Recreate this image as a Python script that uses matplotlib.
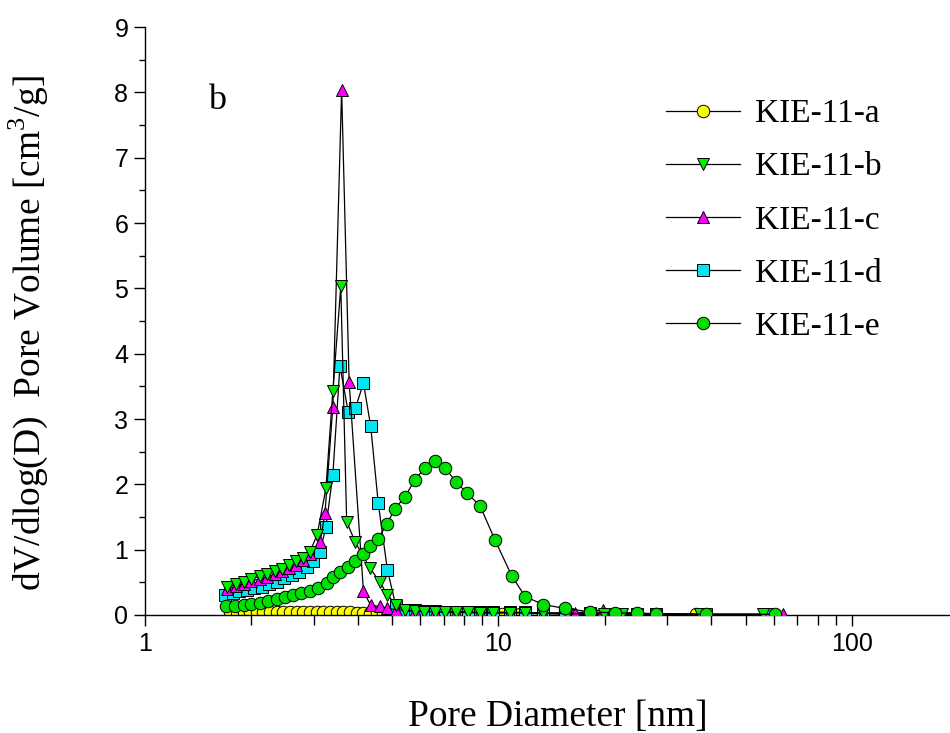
import matplotlib
matplotlib.use("Agg")
import matplotlib.pyplot as plt
from matplotlib.ticker import FixedLocator, LogLocator, NullFormatter, MultipleLocator

plt.rcParams['mathtext.fontset'] = 'custom'
plt.rcParams['mathtext.rm'] = 'Liberation Serif'

# ---------------- pore size distribution data ----------------
labels = ["KIE-11-a", "KIE-11-b", "KIE-11-c", "KIE-11-d", "KIE-11-e"]

d_a = [1.74, 1.82, 1.90, 1.98, 2.07, 2.16, 2.26, 2.36, 2.46, 2.57, 2.69, 2.80,
       2.93, 3.06, 3.19, 3.34, 3.49, 3.64, 3.80, 3.97, 4.15, 4.33, 4.52, 4.72,
       5.13, 5.80, 6.61, 7.58, 8.87, 10.2, 11.5, 13.4, 15.4, 18.1, 21.3, 24.6,
       27.9, 36.3]
v_a = [0.05, 0.05, 0.05, 0.05, 0.05, 0.05, 0.05, 0.05, 0.05, 0.05, 0.05, 0.04,
       0.04, 0.04, 0.04, 0.04, 0.04, 0.04, 0.04, 0.03, 0.03, 0.03, 0.03, 0.03,
       0.03, 0.02, 0.02, 0.02, 0.02, 0.02, 0.02, 0.02, 0.01, 0.01, 0.01, 0.01,
       0.01, 0.01]

d_b = [1.71, 1.81, 1.90, 2.00, 2.11, 2.21, 2.33, 2.44, 2.56, 2.67, 2.80, 2.93,
       3.07, 3.25, 3.40, 3.58, 3.72, 3.93, 4.33, 4.62, 4.85, 5.13,
       5.44, 5.80, 6.16, 6.61, 7.06, 7.58, 8.20, 8.87, 9.67, 10.8, 11.9, 13.4,
       15.6, 18.1, 19.9, 22.3, 27.9, 37.1, 55.9]
v_b = [0.43, 0.47, 0.51, 0.55, 0.59, 0.62, 0.68, 0.71, 0.77, 0.82, 0.88, 0.97,
       1.23, 1.94, 3.43, 5.03, 1.43, 1.12, 0.72, 0.50, 0.31, 0.15,
       0.07, 0.06, 0.05, 0.05, 0.04, 0.04, 0.04, 0.03, 0.03, 0.03, 0.03, 0.03,
       0.02, 0.02, 0.02, 0.02, 0.01, 0.01, 0.01]

d_c = [1.71, 1.81, 1.90, 2.00, 2.11, 2.21, 2.33, 2.44, 2.56, 2.67, 2.80, 2.93,
       3.13, 3.23, 3.40, 3.60, 3.78, 4.15, 4.35, 4.62, 4.85,
       5.13, 5.80, 6.61, 7.58, 8.87, 10.8, 13.4, 16.5, 19.7, 24.6, 38.6, 63.8]
v_c = [0.40, 0.44, 0.48, 0.52, 0.55, 0.58, 0.63, 0.67, 0.72, 0.76, 0.84, 0.93,
       1.12, 1.56, 3.19, 8.04, 3.57, 0.36, 0.15, 0.13, 0.10,
       0.08, 0.06, 0.05, 0.05, 0.04, 0.04, 0.03, 0.03, 0.08, 0.02, 0.01, 0.01]

d_d = [1.68, 1.77, 1.85, 1.94, 2.04, 2.14, 2.25, 2.36, 2.47, 2.60, 2.73, 2.87,
       2.99, 3.13, 3.25, 3.40, 3.56, 3.76, 3.94, 4.15, 4.35, 4.57, 4.85, 5.13,
       5.44, 5.80, 6.16, 6.61, 7.06, 7.58, 8.20, 8.87, 9.67, 10.8, 11.9, 13.4,
       15.4, 18.1, 21.3, 24.6, 27.9, 38.6, 57.5]
v_d = [0.31, 0.33, 0.36, 0.38, 0.41, 0.43, 0.47, 0.51, 0.56, 0.61, 0.66, 0.74,
       0.82, 0.97, 1.35, 2.15, 3.81, 3.10, 3.17, 3.55, 2.89, 1.71, 0.69, 0.13,
       0.08, 0.07, 0.06, 0.06, 0.05, 0.05, 0.05, 0.04, 0.04, 0.04, 0.04, 0.03,
       0.03, 0.03, 0.02, 0.02, 0.02, 0.01, 0.01]

d_e = [1.69, 1.80, 1.90, 2.00, 2.11, 2.23, 2.36, 2.49, 2.63, 2.77, 2.93, 3.09,
       3.27, 3.41, 3.56, 3.76, 3.93, 4.15, 4.33, 4.57, 4.83, 5.10, 5.44, 5.80,
       6.19, 6.61, 7.06, 7.58, 8.13, 8.87, 9.77, 10.9, 11.9, 13.4, 15.4, 18.1,
       21.3, 24.6, 27.9, 38.6, 60.6]
v_e = [0.13, 0.14, 0.15, 0.17, 0.19, 0.22, 0.24, 0.27, 0.30, 0.33, 0.37, 0.42,
       0.49, 0.58, 0.66, 0.74, 0.82, 0.94, 1.06, 1.17, 1.39, 1.63, 1.81, 2.07,
       2.25, 2.36, 2.25, 2.04, 1.87, 1.67, 1.15, 0.60, 0.28, 0.16, 0.10, 0.05,
       0.03, 0.03, 0.02, 0.01, 0.01]

# ---------------- styles ----------------
styles = [
    dict(marker='o', color='#ffff00', zorder=2),
    dict(marker='v', color='#00ee00', zorder=5),
    dict(marker='^', color='#ff00ff', zorder=4),
    dict(marker='s', color='#00e5f0', zorder=3),
    dict(marker='o', color='#00e000', zorder=6),
]
series = [(d_a, v_a), (d_b, v_b), (d_c, v_c), (d_d, v_d), (d_e, v_e)]

fig = plt.figure(figsize=(9.5, 7.33), dpi=100)
ax = fig.add_axes([0.1526, 0.161, 0.848, 0.802])

for (d, v), lab, st in zip(series, labels, styles):
    ax.plot(d, v, color='black', lw=0.9, marker=st['marker'], ms=9,
            markerfacecolor=st['color'], markeredgecolor='black',
            markeredgewidth=0.7, label=lab, zorder=st['zorder'])

ax.set_xscale('log')
ax.set_xlim(1, 190)
ax.set_ylim(0, 9)

ax.xaxis.set_major_locator(FixedLocator([1, 10, 100]))
ax.set_xticklabels(['1', '10', '100'])
ax.xaxis.set_minor_locator(LogLocator(base=10, subs=range(2, 10)))
ax.xaxis.set_minor_formatter(NullFormatter())
ax.yaxis.set_major_locator(MultipleLocator(1))
ax.yaxis.set_minor_locator(MultipleLocator(0.5))

for s in ['top', 'right']:
    ax.spines[s].set_visible(False)
for s in ['left', 'bottom']:
    ax.spines[s].set_linewidth(1.0)

ax.tick_params(axis='both', which='major', direction='out', length=8,
               width=1.0, labelsize=18, pad=4)
ax.tick_params(axis='y', which='minor', direction='out', length=4.5, width=1.0)
ax.tick_params(axis='x', which='minor', direction='out', length=7, width=1.0)
for t in ax.get_xticklabels() + ax.get_yticklabels():
    t.set_family('Liberation Sans')

ax.set_xlabel('Pore Diameter [nm]', family='Liberation Serif', fontsize=27)
ax.xaxis.set_label_coords(0.513, -0.143)
ax.set_ylabel(r'dV/dlog(D)  Pore Volume [cm$^{3}$/g]', family='Liberation Serif',
              fontsize=27)
ax.yaxis.set_label_coords(-0.118, 0.48)

ax.text(0.09, 0.875, 'b', transform=ax.transAxes, family='Liberation Serif',
        fontsize=26, ha='center', va='center')

leg = ax.legend(loc='upper left', bbox_to_anchor=(0.684, 0.888),
                bbox_transform=fig.transFigure, frameon=False,
                prop={'family': 'Liberation Serif', 'size': 24},
                handlelength=2.2, handletextpad=0.45, labelspacing=0.68,
                borderpad=0)

fig.savefig('out.png', dpi=100)
